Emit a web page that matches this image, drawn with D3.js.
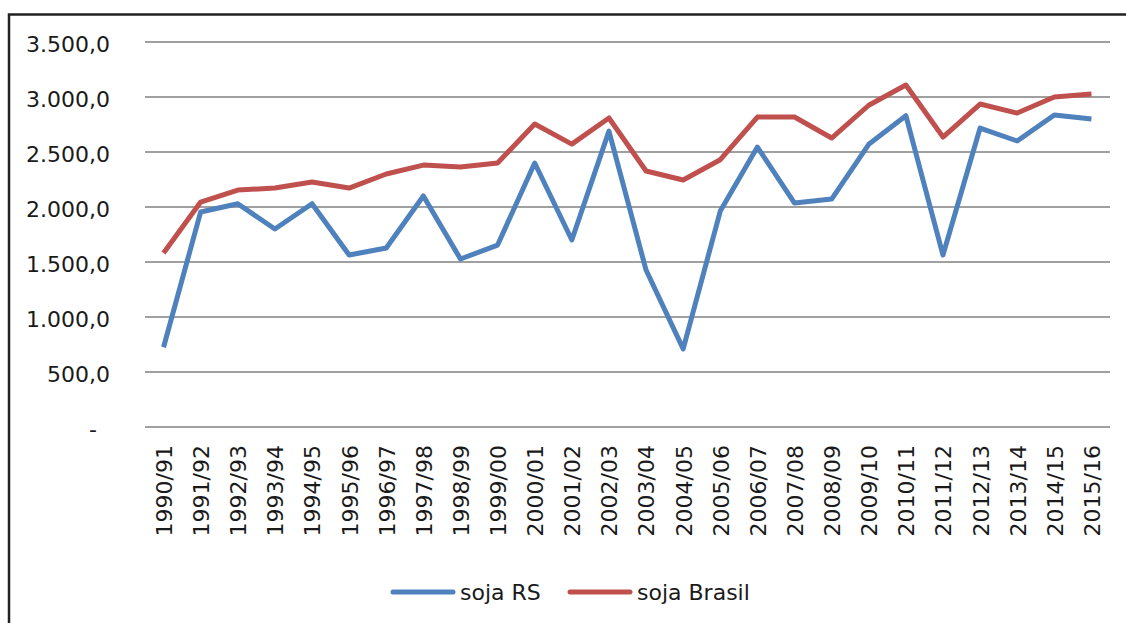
<!DOCTYPE html>
<html>
<head>
<meta charset="utf-8">
<script src="https://cdn.jsdelivr.net/npm/d3@7"></script>
<style>
    body { margin: 0; background: #fff; }
    svg text { font-family: "DejaVu Sans", Verdana, sans-serif; fill: #1a1a1a; }
</style>
</head>
<body>
<div id="chart"></div>
<script>
// safras
const safras = ["1990/91","1991/92","1992/93","1993/94","1994/95","1995/96","1996/97","1997/98","1998/99","1999/00",
    "2000/01","2001/02","2002/03","2003/04","2004/05","2005/06","2006/07","2007/08","2008/09","2009/10",
    "2010/11","2011/12","2012/13","2013/14","2014/15","2015/16"];

const sojaRS = [725, 1955, 2030, 1800, 2030, 1563, 1627, 2100, 1527, 1654,
    2400, 1700, 2690, 1427, 710, 1963, 2545, 2036, 2072, 2570,
    2830, 1563, 2718, 2600, 2836, 2800];

const sojaBrasil = [1582, 2045, 2154, 2172, 2227, 2172, 2300, 2381, 2363, 2400,
    2754, 2572, 2809, 2327, 2245, 2430, 2818, 2818, 2627, 2925,
    3109, 2636, 2936, 2854, 3000, 3027];

const yTicks = [0, 500, 1000, 1500, 2000, 2500, 3000, 3500];

const seriesNames = ["soja RS", "soja Brasil"];
const seriesColors = ["#4f81bd", "#c0504d"];

class LineChart
{
    constructor(_config)
    {
        this.config =
        {
            parentElement: _config.parentElement,
            containerWidth: _config.containerWidth || 1126,
            containerHeight: _config.containerHeight || 623,
            plotLeft: 145,
            plotRight: 1110,
            plotTop: 42,
            plotBottom: 427,
            fontSize: 22
        }
        this.initChart();
    }

    initChart()
    {
        let vis = this;
        let c = vis.config;

        vis.svg = d3.select(c.parentElement).append('svg')
            .attr('width', c.containerWidth)
            .attr('height', c.containerHeight);

        // moldura
        vis.svg.append('rect')
            .attr('x', 9).attr('y', 14.5)
            .attr('width', c.containerWidth + 20)
            .attr('height', c.containerHeight + 20)
            .attr('fill', 'none')
            .attr('stroke', '#222')
            .attr('stroke-width', 2.5);

        vis.x = d3.scalePoint()
            .domain(safras)
            .range([c.plotLeft, c.plotRight])
            .padding(0.5);

        vis.y = d3.scaleLinear()
            .domain([0, 3500])
            .range([c.plotBottom, c.plotTop]);

        vis.svg.append('g')
            .selectAll('line')
            .data(yTicks)
            .enter().append('line')
                .attr('x1', c.plotLeft)
                .attr('x2', c.plotRight)
                .attr('y1', d => vis.y(d))
                .attr('y2', d => vis.y(d))
                .attr('stroke', '#a0a0a0')
                .attr('stroke-width', 2);

        let fmt = d3.formatLocale({decimal: ",", thousands: ".", grouping: [3], currency: ["", ""]}).format(",.1f");

        let yAxis = vis.svg.append('g')
            .attr('transform', `translate(110, 0)`)
            .call(d3.axisLeft(vis.y).tickValues(yTicks).tickSize(0).tickPadding(0)
                .tickFormat(d => d === 0 ? "-" : fmt(d)));
        yAxis.select('.domain').remove();
        yAxis.selectAll('text')
            .attr('font-size', c.fontSize)
            .attr('dy', '0.45em')
            .attr('x', d => d === 0 ? -13 : 0);

        let xAxis = vis.svg.append('g')
            .attr('transform', `translate(0, ${c.plotBottom})`)
            .call(d3.axisBottom(vis.x).tickSize(0).tickPadding(0));
        xAxis.select('.domain').remove();
        xAxis.selectAll('text')
            .attr('font-size', c.fontSize)
            .attr('text-anchor', 'end')
            .attr('transform', 'rotate(-90)')
            .attr('x', -18)
            .attr('y', 0)
            .attr('dy', '0.36em');

        let line = d3.line()
            .x((d, i) => vis.x(safras[i]))
            .y(d => vis.y(d));

        [sojaRS, sojaBrasil].forEach((s, i) => {
            vis.svg.append('path')
                .datum(s)
                .attr('d', line)
                .attr('fill', 'none')
                .attr('stroke', seriesColors[i])
                .attr('stroke-width', 5)
                .attr('stroke-linejoin', 'round');
        });

        // legenda
        let legend = vis.svg.append('g');
        let lx = [393, 570];
        seriesNames.forEach((n, i) => {
            legend.append('line')
                .attr('x1', lx[i]).attr('x2', lx[i] + 60)
                .attr('y1', 592).attr('y2', 592)
                .attr('stroke', seriesColors[i])
                .attr('stroke-width', 5)
                .attr('stroke-linecap', 'round');
            legend.append('text')
                .attr('x', lx[i] + 67)
                .attr('y', 592)
                .attr('dy', '0.36em')
                .attr('font-size', c.fontSize)
                .text(n);
        });
    }
}

new LineChart({parentElement: '#chart'});
</script>
</body>
</html>
